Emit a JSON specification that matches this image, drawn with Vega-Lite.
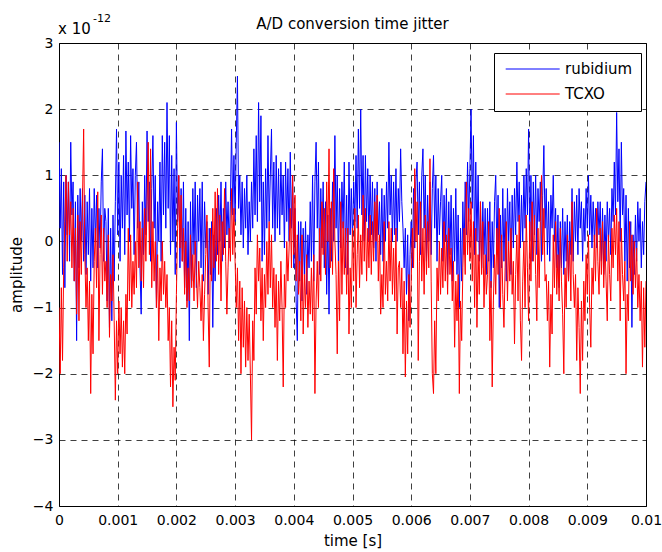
{
"$schema":"https://vega.github.io/schema/vega-lite/v6.json",
"width":587,"height":463,
"autosize":{"type":"none"},
"padding":{"left":59,"top":43,"right":16,"bottom":46},
"background":"white",
"title":{"text":"A/D conversion time jitter","font":"DejaVu Sans","fontSize":15,"fontWeight":"normal","color":"black","anchor":"middle","baseline":"alphabetic","offset":-17,"dy":14},
"config":{
"font":"DejaVu Sans",
"view":{"stroke":"black","strokeWidth":1},
"axis":{"labelFont":"DejaVu Sans","labelFontSize":14,"labelColor":"black","titleFont":"DejaVu Sans","titleFontSize":15,"titleFontWeight":"normal","titleColor":"black","domain":false,"ticks":false,"grid":true,"gridColor":"black","gridDash":[6,5],"gridWidth":1,"gridOpacity":0.75}
},
"data":{"values":[
{"t":0,"rb":1.5,"tcxo":-1.0},{"t":0.00002,"rb":0.2,"tcxo":-2.0},{"t":0.00004,"rb":1.1,"tcxo":-0.7},{"t":0.00006,"rb":-0.5,"tcxo":-1.8},{"t":0.00008,"rb":0.9,"tcxo":-0.4},
{"t":0.0001,"rb":-0.7,"tcxo":0.3},{"t":0.00012,"rb":1.0,"tcxo":1.0},{"t":0.00014,"rb":0.1,"tcxo":-0.3},{"t":0.00016,"rb":0.9,"tcxo":0.9},{"t":0.00018,"rb":-0.3,"tcxo":0.1},
{"t":0.0002,"rb":1.5,"tcxo":0.6},{"t":0.00022,"rb":0.4,"tcxo":-0.4},{"t":0.00024,"rb":0.9,"tcxo":0.5},{"t":0.00026,"rb":-0.6,"tcxo":-0.6},{"t":0.00028,"rb":0.6,"tcxo":0.2},
{"t":0.0003,"rb":-1.5,"tcxo":-1.1},{"t":0.00032,"rb":0.7,"tcxo":0.4},{"t":0.00034,"rb":-0.4,"tcxo":-1.2},{"t":0.00036,"rb":0.8,"tcxo":0.3},{"t":0.00038,"rb":0.0,"tcxo":-0.5},
{"t":0.0004,"rb":0.8,"tcxo":0.6},{"t":0.00042,"rb":-0.3,"tcxo":1.7},{"t":0.00044,"rb":0.7,"tcxo":-0.2},{"t":0.00046,"rb":-0.5,"tcxo":-1.0},{"t":0.00048,"rb":0.6,"tcxo":-0.4},
{"t":0.0005,"rb":-0.2,"tcxo":-1.5},{"t":0.00052,"rb":0.8,"tcxo":-0.6},{"t":0.00054,"rb":-0.6,"tcxo":-2.3},{"t":0.00056,"rb":0.5,"tcxo":-0.8},{"t":0.00058,"rb":-0.4,"tcxo":-1.7},
{"t":0.0006,"rb":0.8,"tcxo":-0.3},{"t":0.00062,"rb":0.0,"tcxo":0.2},{"t":0.00064,"rb":0.7,"tcxo":-0.7},{"t":0.00066,"rb":-0.4,"tcxo":0.75},{"t":0.00068,"rb":0.5,"tcxo":-1.5},
{"t":0.0007,"rb":-0.1,"tcxo":-0.2},{"t":0.00072,"rb":0.9,"tcxo":0.4},{"t":0.00074,"rb":1.4,"tcxo":-0.8},{"t":0.00076,"rb":-0.3,"tcxo":0.2},{"t":0.00078,"rb":0.5,"tcxo":-0.6},
{"t":0.0008,"rb":0.3,"tcxo":-0.3},{"t":0.00082,"rb":-0.9,"tcxo":-1.0},{"t":0.00084,"rb":0.5,"tcxo":0.1},{"t":0.00086,"rb":-1.3,"tcxo":-1.45},{"t":0.00088,"rb":0.2,"tcxo":-0.5},
{"t":0.0009,"rb":-1.2,"tcxo":-0.9},{"t":0.00092,"rb":0.4,"tcxo":-0.2},{"t":0.00094,"rb":-0.6,"tcxo":-1.2},{"t":0.00096,"rb":0.6,"tcxo":-2.4},{"t":0.00098,"rb":1.7,"tcxo":-1.2},
{"t":0.001,"rb":0.1,"tcxo":-2.0},{"t":0.00102,"rb":1.2,"tcxo":-0.9},{"t":0.00104,"rb":-0.3,"tcxo":-1.7},{"t":0.00106,"rb":1.0,"tcxo":-1.0},{"t":0.00108,"rb":0.2,"tcxo":-1.9},
{"t":0.0011,"rb":1.3,"tcxo":-1.2},{"t":0.00112,"rb":-0.2,"tcxo":-2.0},{"t":0.00114,"rb":1.67,"tcxo":-0.8},{"t":0.00116,"rb":0.4,"tcxo":-1.4},{"t":0.00118,"rb":1.2,"tcxo":0.2},
{"t":0.0012,"rb":0.0,"tcxo":-0.9},{"t":0.00122,"rb":1.6,"tcxo":0.1},{"t":0.00124,"rb":0.5,"tcxo":-1.0},{"t":0.00126,"rb":1.1,"tcxo":-0.3},{"t":0.00128,"rb":-0.2,"tcxo":-0.8},
{"t":0.0013,"rb":1.0,"tcxo":0.0},{"t":0.00132,"rb":1.5,"tcxo":-0.7},{"t":0.00134,"rb":0.2,"tcxo":0.9},{"t":0.00136,"rb":0.9,"tcxo":-0.4},{"t":0.00138,"rb":-0.4,"tcxo":0.3},
{"t":0.0014,"rb":-1.1,"tcxo":-0.6},{"t":0.00142,"rb":0.6,"tcxo":0.2},{"t":0.00144,"rb":-0.2,"tcxo":-0.7},{"t":0.00146,"rb":1.0,"tcxo":0.5},{"t":0.00148,"rb":0.1,"tcxo":-0.3},
{"t":0.0015,"rb":1.67,"tcxo":0.6},{"t":0.00152,"rb":0.3,"tcxo":1.5},{"t":0.00154,"rb":0.9,"tcxo":-0.2},{"t":0.00156,"rb":-0.3,"tcxo":1.4},{"t":0.00158,"rb":0.8,"tcxo":-0.7},
{"t":0.0016,"rb":1.6,"tcxo":0.3},{"t":0.00162,"rb":0.2,"tcxo":-0.6},{"t":0.00164,"rb":1.0,"tcxo":0.0},{"t":0.00166,"rb":-1.0,"tcxo":-1.0},{"t":0.00168,"rb":0.6,"tcxo":-0.2},
{"t":0.0017,"rb":0.0,"tcxo":-1.5},{"t":0.00172,"rb":1.2,"tcxo":-0.4},{"t":0.00174,"rb":-0.3,"tcxo":-0.9},{"t":0.00176,"rb":1.6,"tcxo":0.0},{"t":0.00178,"rb":0.4,"tcxo":-0.8},
{"t":0.0018,"rb":1.5,"tcxo":-0.3},{"t":0.00182,"rb":0.2,"tcxo":-1.0},{"t":0.00184,"rb":2.1,"tcxo":-0.5},{"t":0.00186,"rb":0.5,"tcxo":-1.5},{"t":0.00188,"rb":1.6,"tcxo":-1.0},
{"t":0.0019,"rb":-0.2,"tcxo":-2.2},{"t":0.00192,"rb":1.3,"tcxo":-1.2},{"t":0.00194,"rb":0.0,"tcxo":-2.5},{"t":0.00196,"rb":1.1,"tcxo":-1.6},{"t":0.00198,"rb":-0.5,"tcxo":-2.1},
{"t":0.002,"rb":1.8,"tcxo":-0.8},{"t":0.00202,"rb":0.3,"tcxo":0.2},{"t":0.00204,"rb":1.0,"tcxo":1.0},{"t":0.00206,"rb":-0.4,"tcxo":-0.1},{"t":0.00208,"rb":0.8,"tcxo":0.7},
{"t":0.0021,"rb":-0.3,"tcxo":-0.3},{"t":0.00212,"rb":0.9,"tcxo":0.2},{"t":0.00214,"rb":-0.7,"tcxo":-0.8},{"t":0.00216,"rb":0.5,"tcxo":0.0},{"t":0.00218,"rb":-0.9,"tcxo":-1.0},
{"t":0.0022,"rb":0.3,"tcxo":-0.4},{"t":0.00222,"rb":-1.5,"tcxo":-0.9},{"t":0.00224,"rb":0.6,"tcxo":0.1},{"t":0.00226,"rb":-0.6,"tcxo":-0.7},{"t":0.00228,"rb":0.8,"tcxo":-0.2},
{"t":0.0023,"rb":-0.2,"tcxo":-0.9},{"t":0.00232,"rb":0.9,"tcxo":0.0},{"t":0.00234,"rb":-0.7,"tcxo":-0.5},{"t":0.00236,"rb":0.7,"tcxo":-1.0},{"t":0.00238,"rb":0.0,"tcxo":-0.3},
{"t":0.0024,"rb":0.8,"tcxo":-0.7},{"t":0.00242,"rb":-0.4,"tcxo":-1.2},{"t":0.00244,"rb":0.9,"tcxo":-0.5},{"t":0.00246,"rb":-0.6,"tcxo":-1.5},{"t":0.00248,"rb":0.6,"tcxo":-0.8},
{"t":0.0025,"rb":-0.1,"tcxo":-0.2},{"t":0.00252,"rb":0.3,"tcxo":0.4},{"t":0.00254,"rb":-0.8,"tcxo":-1.0},{"t":0.00256,"rb":0.2,"tcxo":-1.9},{"t":0.00258,"rb":-0.5,"tcxo":0.2},
{"t":0.0026,"rb":0.3,"tcxo":-0.6},{"t":0.00262,"rb":-1.3,"tcxo":0.5},{"t":0.00264,"rb":0.1,"tcxo":-0.4},{"t":0.00266,"rb":-0.6,"tcxo":0.75},{"t":0.00268,"rb":0.5,"tcxo":-0.3},
{"t":0.0027,"rb":-0.2,"tcxo":0.8},{"t":0.00272,"rb":0.7,"tcxo":-0.5},{"t":0.00274,"rb":0.0,"tcxo":0.4},{"t":0.00276,"rb":0.9,"tcxo":-0.9},{"t":0.00278,"rb":-0.3,"tcxo":0.3},
{"t":0.0028,"rb":0.5,"tcxo":-0.2},{"t":0.00282,"rb":-0.1,"tcxo":0.8},{"t":0.00284,"rb":0.9,"tcxo":-0.3},{"t":0.00286,"rb":0.1,"tcxo":-1.1},{"t":0.00288,"rb":0.6,"tcxo":-0.4},
{"t":0.0029,"rb":-0.1,"tcxo":0.2},{"t":0.00292,"rb":0.6,"tcxo":-0.3},{"t":0.00294,"rb":1.7,"tcxo":0.8},{"t":0.00296,"rb":0.4,"tcxo":-0.2},{"t":0.00298,"rb":1.3,"tcxo":0.5},
{"t":0.003,"rb":0.3,"tcxo":-0.3},{"t":0.00302,"rb":1.5,"tcxo":-1.0},{"t":0.00304,"rb":2.5,"tcxo":-0.4},{"t":0.00306,"rb":0.5,"tcxo":-1.5},{"t":0.00308,"rb":1.0,"tcxo":-0.6},
{"t":0.0031,"rb":0.1,"tcxo":-2.0},{"t":0.00312,"rb":0.9,"tcxo":-0.7},{"t":0.00314,"rb":-0.1,"tcxo":-1.6},{"t":0.00316,"rb":0.8,"tcxo":-0.9},{"t":0.00318,"rb":0.2,"tcxo":-1.9},
{"t":0.0032,"rb":1.0,"tcxo":-1.0},{"t":0.00322,"rb":-0.2,"tcxo":-1.8},{"t":0.00324,"rb":0.6,"tcxo":-1.1},{"t":0.00326,"rb":0.0,"tcxo":-2.0},{"t":0.00328,"rb":0.9,"tcxo":-3.0},
{"t":0.0033,"rb":0.2,"tcxo":-1.2},{"t":0.00332,"rb":1.4,"tcxo":-1.8},{"t":0.00334,"rb":0.4,"tcxo":-0.4},{"t":0.00336,"rb":1.6,"tcxo":-1.1},{"t":0.00338,"rb":0.3,"tcxo":0.1},
{"t":0.0034,"rb":2.1,"tcxo":-0.6},{"t":0.00342,"rb":0.6,"tcxo":-0.1},{"t":0.00344,"rb":1.9,"tcxo":-1.2},{"t":0.00346,"rb":-0.3,"tcxo":-0.4},{"t":0.00348,"rb":0.9,"tcxo":-1.5},
{"t":0.0035,"rb":-0.2,"tcxo":-0.5},{"t":0.00352,"rb":1.1,"tcxo":-1.0},{"t":0.00354,"rb":0.2,"tcxo":0.0},{"t":0.00356,"rb":1.6,"tcxo":-0.8},{"t":0.00358,"rb":0.3,"tcxo":0.3},
{"t":0.0036,"rb":1.0,"tcxo":-0.7},{"t":0.00362,"rb":1.7,"tcxo":0.1},{"t":0.00364,"rb":0.2,"tcxo":-1.0},{"t":0.00366,"rb":1.2,"tcxo":-0.4},{"t":0.00368,"rb":0.0,"tcxo":-1.3},
{"t":0.0037,"rb":1.3,"tcxo":-0.5},{"t":0.00372,"rb":0.2,"tcxo":-1.8},{"t":0.00374,"rb":1.1,"tcxo":-0.6},{"t":0.00376,"rb":0.1,"tcxo":-1.2},{"t":0.00378,"rb":1.2,"tcxo":-0.3},
{"t":0.0038,"rb":0.4,"tcxo":-1.0},{"t":0.00382,"rb":1.0,"tcxo":-2.2},{"t":0.00384,"rb":-0.1,"tcxo":-0.5},{"t":0.00386,"rb":1.2,"tcxo":-1.0},{"t":0.00388,"rb":0.3,"tcxo":0.0},
{"t":0.0039,"rb":1.1,"tcxo":-0.6},{"t":0.00392,"rb":0.0,"tcxo":-0.1},{"t":0.00394,"rb":1.35,"tcxo":0.5},{"t":0.00396,"rb":0.2,"tcxo":-0.4},{"t":0.00398,"rb":1.0,"tcxo":1.0},
{"t":0.004,"rb":-0.4,"tcxo":-0.2},{"t":0.00402,"rb":0.5,"tcxo":0.7},{"t":0.00404,"rb":-0.9,"tcxo":-0.6},{"t":0.00406,"rb":-1.5,"tcxo":0.1},{"t":0.00408,"rb":0.3,"tcxo":-0.8},
{"t":0.0041,"rb":-0.6,"tcxo":-0.3},{"t":0.00412,"rb":0.3,"tcxo":-1.2},{"t":0.00414,"rb":-0.9,"tcxo":0.1},{"t":0.00416,"rb":0.2,"tcxo":-1.4},{"t":0.00418,"rb":-0.5,"tcxo":-0.5},
{"t":0.0042,"rb":0.3,"tcxo":-1.0},{"t":0.00422,"rb":-0.8,"tcxo":-0.2},{"t":0.00424,"rb":0.1,"tcxo":-1.3},{"t":0.00426,"rb":-0.4,"tcxo":-0.6},{"t":0.00428,"rb":0.6,"tcxo":-1.1},
{"t":0.0043,"rb":-0.3,"tcxo":-0.4},{"t":0.00432,"rb":1.0,"tcxo":-1.2},{"t":0.00434,"rb":-0.6,"tcxo":-0.2},{"t":0.00436,"rb":0.9,"tcxo":-2.3},{"t":0.00438,"rb":1.5,"tcxo":-0.9},
{"t":0.0044,"rb":0.2,"tcxo":-0.3},{"t":0.00442,"rb":1.2,"tcxo":-1.0},{"t":0.00444,"rb":-0.5,"tcxo":0.2},{"t":0.00446,"rb":0.8,"tcxo":-0.6},{"t":0.00448,"rb":-0.1,"tcxo":0.6},
{"t":0.0045,"rb":0.9,"tcxo":-0.2},{"t":0.00452,"rb":-0.4,"tcxo":0.5},{"t":0.00454,"rb":0.6,"tcxo":-0.5},{"t":0.00456,"rb":-0.8,"tcxo":0.9},{"t":0.00458,"rb":0.4,"tcxo":0.0},
{"t":0.0046,"rb":-1.1,"tcxo":1.4},{"t":0.00462,"rb":0.5,"tcxo":-0.4},{"t":0.00464,"rb":-0.3,"tcxo":0.6},{"t":0.00466,"rb":0.9,"tcxo":-0.5},{"t":0.00468,"rb":0.0,"tcxo":1.1},
{"t":0.0047,"rb":1.6,"tcxo":0.0},{"t":0.00472,"rb":0.2,"tcxo":-0.5},{"t":0.00474,"rb":1.0,"tcxo":-1.7},{"t":0.00476,"rb":-0.3,"tcxo":-0.3},{"t":0.00478,"rb":0.8,"tcxo":-1.2},
{"t":0.0048,"rb":-0.1,"tcxo":0.6},{"t":0.00482,"rb":0.9,"tcxo":-0.8},{"t":0.00484,"rb":0.2,"tcxo":0.3},{"t":0.00486,"rb":1.2,"tcxo":-0.5},{"t":0.00488,"rb":-0.4,"tcxo":0.2},
{"t":0.0049,"rb":0.7,"tcxo":-0.8},{"t":0.00492,"rb":-0.5,"tcxo":0.2},{"t":0.00494,"rb":1.2,"tcxo":-1.4},{"t":0.00496,"rb":0.1,"tcxo":-0.4},{"t":0.00498,"rb":0.8,"tcxo":-1.0},
{"t":0.005,"rb":0.0,"tcxo":0.2},{"t":0.00502,"rb":0.9,"tcxo":-0.6},{"t":0.00504,"rb":0.3,"tcxo":0.5},{"t":0.00506,"rb":1.3,"tcxo":-1.0},{"t":0.00508,"rb":0.2,"tcxo":-0.2},
{"t":0.0051,"rb":1.7,"tcxo":0.4},{"t":0.00512,"rb":0.5,"tcxo":-0.7},{"t":0.00514,"rb":2.0,"tcxo":0.1},{"t":0.00516,"rb":0.4,"tcxo":-0.5},{"t":0.00518,"rb":1.3,"tcxo":0.7},
{"t":0.0052,"rb":0.0,"tcxo":-0.3},{"t":0.00522,"rb":1.3,"tcxo":0.5},{"t":0.00524,"rb":0.3,"tcxo":-0.6},{"t":0.00526,"rb":1.1,"tcxo":0.2},{"t":0.00528,"rb":0.0,"tcxo":-0.4},
{"t":0.0053,"rb":1.0,"tcxo":0.4},{"t":0.00532,"rb":0.1,"tcxo":-0.5},{"t":0.00534,"rb":0.9,"tcxo":0.3},{"t":0.00536,"rb":-0.1,"tcxo":-0.3},{"t":0.00538,"rb":0.8,"tcxo":0.6},
{"t":0.0054,"rb":-0.3,"tcxo":0.0},{"t":0.00542,"rb":0.9,"tcxo":0.7},{"t":0.00544,"rb":0.1,"tcxo":-0.6},{"t":0.00546,"rb":0.6,"tcxo":0.1},{"t":0.00548,"rb":-0.2,"tcxo":-1.1},
{"t":0.0055,"rb":0.8,"tcxo":-0.5},{"t":0.00552,"rb":-0.3,"tcxo":-1.0},{"t":0.00554,"rb":0.7,"tcxo":0.3},{"t":0.00556,"rb":0.0,"tcxo":-0.8},{"t":0.00558,"rb":0.9,"tcxo":-0.3},
{"t":0.0056,"rb":0.2,"tcxo":-0.9},{"t":0.00562,"rb":1.5,"tcxo":0.3},{"t":0.00564,"rb":0.4,"tcxo":-0.6},{"t":0.00566,"rb":1.0,"tcxo":0.2},{"t":0.00568,"rb":0.0,"tcxo":-0.8},
{"t":0.0057,"rb":0.9,"tcxo":-0.1},{"t":0.00572,"rb":0.1,"tcxo":-0.9},{"t":0.00574,"rb":1.1,"tcxo":0.2},{"t":0.00576,"rb":0.0,"tcxo":-1.4},{"t":0.00578,"rb":0.8,"tcxo":-0.4},
{"t":0.0058,"rb":0.3,"tcxo":-0.3},{"t":0.00582,"rb":1.4,"tcxo":-1.0},{"t":0.00584,"rb":0.6,"tcxo":-0.4},{"t":0.00586,"rb":0.2,"tcxo":-1.7},{"t":0.00588,"rb":-0.4,"tcxo":-0.6},
{"t":0.0059,"rb":0.2,"tcxo":-2.05},{"t":0.00592,"rb":-0.8,"tcxo":-0.9},{"t":0.00594,"rb":0.1,"tcxo":-1.7},{"t":0.00596,"rb":-1.2,"tcxo":-0.5},{"t":0.00598,"rb":-0.2,"tcxo":-1.3},
{"t":0.006,"rb":0.3,"tcxo":-0.6},{"t":0.00602,"rb":-0.4,"tcxo":0.2},{"t":0.00604,"rb":0.8,"tcxo":-0.4},{"t":0.00606,"rb":-0.1,"tcxo":1.1},{"t":0.00608,"rb":0.9,"tcxo":0.0},
{"t":0.0061,"rb":1.2,"tcxo":0.6},{"t":0.00612,"rb":0.1,"tcxo":-1.8},{"t":0.00614,"rb":0.9,"tcxo":-0.3},{"t":0.00616,"rb":-0.2,"tcxo":0.6},{"t":0.00618,"rb":1.0,"tcxo":-0.6},
{"t":0.0062,"rb":1.4,"tcxo":0.2},{"t":0.00622,"rb":0.2,"tcxo":-0.8},{"t":0.00624,"rb":1.0,"tcxo":0.4},{"t":0.00626,"rb":-0.3,"tcxo":-0.5},{"t":0.00628,"rb":0.7,"tcxo":0.3},
{"t":0.0063,"rb":0.0,"tcxo":-0.4},{"t":0.00632,"rb":0.9,"tcxo":1.25},{"t":0.00634,"rb":-0.2,"tcxo":-0.6},{"t":0.00636,"rb":0.8,"tcxo":-2.0},{"t":0.00638,"rb":1.3,"tcxo":-2.3},
{"t":0.0064,"rb":0.2,"tcxo":-1.2},{"t":0.00642,"rb":1.0,"tcxo":-2.0},{"t":0.00644,"rb":-0.3,"tcxo":-0.4},{"t":0.00646,"rb":0.8,"tcxo":-0.9},{"t":0.00648,"rb":0.1,"tcxo":0.0},
{"t":0.0065,"rb":0.6,"tcxo":-0.8},{"t":0.00652,"rb":1.0,"tcxo":-0.1},{"t":0.00654,"rb":-0.3,"tcxo":-0.7},{"t":0.00656,"rb":0.7,"tcxo":0.3},{"t":0.00658,"rb":0.0,"tcxo":-0.6},
{"t":0.0066,"rb":0.8,"tcxo":0.1},{"t":0.00662,"rb":-0.5,"tcxo":-0.8},{"t":0.00664,"rb":0.6,"tcxo":0.2},{"t":0.00666,"rb":-0.2,"tcxo":-0.5},{"t":0.00668,"rb":0.7,"tcxo":-0.1},
{"t":0.0067,"rb":-0.6,"tcxo":-0.9},{"t":0.00672,"rb":0.5,"tcxo":-0.3},{"t":0.00674,"rb":-0.3,"tcxo":-1.6},{"t":0.00676,"rb":0.8,"tcxo":-0.6},{"t":0.00678,"rb":-0.5,"tcxo":-1.2},
{"t":0.0068,"rb":0.4,"tcxo":-0.5},{"t":0.00682,"rb":-1.0,"tcxo":-2.3},{"t":0.00684,"rb":0.2,"tcxo":-0.9},{"t":0.00686,"rb":-0.6,"tcxo":-1.5},{"t":0.00688,"rb":0.6,"tcxo":-0.4},
{"t":0.0069,"rb":-0.2,"tcxo":0.2},{"t":0.00692,"rb":0.9,"tcxo":-0.5},{"t":0.00694,"rb":0.1,"tcxo":0.9},{"t":0.00696,"rb":1.2,"tcxo":-0.2},{"t":0.00698,"rb":0.3,"tcxo":0.5},
{"t":0.007,"rb":1.1,"tcxo":-0.3},{"t":0.00702,"rb":2.0,"tcxo":0.6},{"t":0.00704,"rb":0.5,"tcxo":-0.6},{"t":0.00706,"rb":1.6,"tcxo":0.3},{"t":0.00708,"rb":-0.2,"tcxo":-1.0},
{"t":0.0071,"rb":1.2,"tcxo":0.2},{"t":0.00712,"rb":0.0,"tcxo":-1.3},{"t":0.00714,"rb":1.0,"tcxo":-0.2},{"t":0.00716,"rb":-0.3,"tcxo":-0.8},{"t":0.00718,"rb":0.6,"tcxo":0.6},
{"t":0.0072,"rb":-0.4,"tcxo":-0.5},{"t":0.00722,"rb":0.6,"tcxo":0.3},{"t":0.00724,"rb":-0.2,"tcxo":-1.0},{"t":0.00726,"rb":0.5,"tcxo":-0.2},{"t":0.00728,"rb":-0.5,"tcxo":-0.8},
{"t":0.0073,"rb":0.5,"tcxo":-0.5},{"t":0.00732,"rb":-0.3,"tcxo":0.3},{"t":0.00734,"rb":0.6,"tcxo":-1.5},{"t":0.00736,"rb":-0.7,"tcxo":-0.6},{"t":0.00738,"rb":0.3,"tcxo":-2.2},
{"t":0.0074,"rb":-0.4,"tcxo":-0.9},{"t":0.00742,"rb":0.6,"tcxo":-0.2},{"t":0.00744,"rb":1.0,"tcxo":-0.8},{"t":0.00746,"rb":-0.2,"tcxo":0.2},{"t":0.00748,"rb":0.7,"tcxo":-0.5},
{"t":0.0075,"rb":-1.0,"tcxo":0.5},{"t":0.00752,"rb":0.4,"tcxo":-1.0},{"t":0.00754,"rb":-0.4,"tcxo":0.1},{"t":0.00756,"rb":0.8,"tcxo":-0.8},{"t":0.00758,"rb":-0.3,"tcxo":-1.3},
{"t":0.0076,"rb":0.5,"tcxo":-0.4},{"t":0.00762,"rb":-0.6,"tcxo":0.3},{"t":0.00764,"rb":0.8,"tcxo":-0.9},{"t":0.00766,"rb":0.0,"tcxo":0.0},{"t":0.00768,"rb":0.6,"tcxo":-0.6},
{"t":0.0077,"rb":-0.5,"tcxo":0.2},{"t":0.00772,"rb":0.7,"tcxo":-0.8},{"t":0.00774,"rb":-0.1,"tcxo":-0.3},{"t":0.00776,"rb":0.8,"tcxo":-1.55},{"t":0.00778,"rb":0.1,"tcxo":-0.5},
{"t":0.0078,"rb":1.2,"tcxo":0.1},{"t":0.00782,"rb":0.3,"tcxo":-0.9},{"t":0.00784,"rb":0.9,"tcxo":0.4},{"t":0.00786,"rb":-0.1,"tcxo":-1.2},{"t":0.00788,"rb":0.7,"tcxo":-1.8},
{"t":0.0079,"rb":0.0,"tcxo":-0.6},{"t":0.00792,"rb":1.0,"tcxo":0.0},{"t":0.00794,"rb":0.2,"tcxo":-1.0},{"t":0.00796,"rb":1.1,"tcxo":0.4},{"t":0.00798,"rb":0.4,"tcxo":-0.4},
{"t":0.008,"rb":1.7,"tcxo":-1.2},{"t":0.00802,"rb":0.0,"tcxo":0.3},{"t":0.00804,"rb":1.0,"tcxo":-0.6},{"t":0.00806,"rb":-0.3,"tcxo":0.6},{"t":0.00808,"rb":0.9,"tcxo":-0.3},
{"t":0.0081,"rb":0.1,"tcxo":0.4},{"t":0.00812,"rb":1.0,"tcxo":-0.5},{"t":0.00814,"rb":-0.2,"tcxo":-1.2},{"t":0.00816,"rb":0.8,"tcxo":0.2},{"t":0.00818,"rb":0.3,"tcxo":-0.7},
{"t":0.0082,"rb":0.9,"tcxo":0.3},{"t":0.00822,"rb":-0.3,"tcxo":1.0},{"t":0.00824,"rb":0.7,"tcxo":-0.2},{"t":0.00826,"rb":1.45,"tcxo":0.5},{"t":0.00828,"rb":0.2,"tcxo":-0.6},
{"t":0.0083,"rb":0.8,"tcxo":-0.5},{"t":0.00832,"rb":-0.2,"tcxo":-1.2},{"t":0.00834,"rb":0.6,"tcxo":-0.6},{"t":0.00836,"rb":-0.3,"tcxo":-1.9},{"t":0.00838,"rb":0.7,"tcxo":-0.8},
{"t":0.0084,"rb":0.2,"tcxo":-1.4},{"t":0.00842,"rb":1.0,"tcxo":0.1},{"t":0.00844,"rb":0.0,"tcxo":-0.7},{"t":0.00846,"rb":0.5,"tcxo":0.3},{"t":0.00848,"rb":-0.4,"tcxo":-0.8},
{"t":0.0085,"rb":0.4,"tcxo":-0.2},{"t":0.00852,"rb":-0.7,"tcxo":-0.9},{"t":0.00854,"rb":0.3,"tcxo":0.2},{"t":0.00856,"rb":-0.4,"tcxo":-0.6},{"t":0.00858,"rb":0.5,"tcxo":-1.1},
{"t":0.0086,"rb":-0.5,"tcxo":-2.0},{"t":0.00862,"rb":0.3,"tcxo":-0.4},{"t":0.00864,"rb":-0.3,"tcxo":-1.0},{"t":0.00866,"rb":0.4,"tcxo":0.1},{"t":0.00868,"rb":-0.6,"tcxo":-0.6},
{"t":0.0087,"rb":0.3,"tcxo":0.0},{"t":0.00872,"rb":-0.2,"tcxo":-0.9},{"t":0.00874,"rb":0.8,"tcxo":0.6},{"t":0.00876,"rb":-0.3,"tcxo":-0.5},{"t":0.00878,"rb":0.6,"tcxo":-1.0},
{"t":0.0088,"rb":0.0,"tcxo":-0.5},{"t":0.00882,"rb":0.7,"tcxo":-1.8},{"t":0.00884,"rb":-0.2,"tcxo":-0.7},{"t":0.00886,"rb":0.8,"tcxo":-1.3},{"t":0.00888,"rb":0.2,"tcxo":-2.3},
{"t":0.0089,"rb":0.6,"tcxo":-0.9},{"t":0.00892,"rb":-0.3,"tcxo":-1.8},{"t":0.00894,"rb":0.5,"tcxo":-0.6},{"t":0.00896,"rb":0.0,"tcxo":-1.2},{"t":0.00898,"rb":0.8,"tcxo":-0.2},
{"t":0.009,"rb":0.2,"tcxo":-0.8},{"t":0.00902,"rb":1.0,"tcxo":0.1},{"t":0.00904,"rb":0.1,"tcxo":-1.0},{"t":0.00906,"rb":0.7,"tcxo":-1.6},{"t":0.00908,"rb":-0.1,"tcxo":-0.4},
{"t":0.0091,"rb":0.6,"tcxo":-0.8},{"t":0.00912,"rb":0.0,"tcxo":0.1},{"t":0.00914,"rb":0.5,"tcxo":-0.6},{"t":0.00916,"rb":-0.1,"tcxo":0.5},{"t":0.00918,"rb":0.6,"tcxo":-0.3},
{"t":0.0092,"rb":0.1,"tcxo":-0.8},{"t":0.00922,"rb":0.6,"tcxo":0.2},{"t":0.00924,"rb":-0.3,"tcxo":-0.5},{"t":0.00926,"rb":0.5,"tcxo":0.3},{"t":0.00928,"rb":-0.5,"tcxo":-0.7},
{"t":0.0093,"rb":0.4,"tcxo":0.0},{"t":0.00932,"rb":-0.3,"tcxo":-0.6},{"t":0.00934,"rb":0.6,"tcxo":-1.2},{"t":0.00936,"rb":0.0,"tcxo":0.1},{"t":0.00938,"rb":0.5,"tcxo":-0.5},
{"t":0.0094,"rb":-0.2,"tcxo":-0.9},{"t":0.00942,"rb":0.8,"tcxo":0.2},{"t":0.00944,"rb":0.3,"tcxo":-0.4},{"t":0.00946,"rb":1.2,"tcxo":0.4},{"t":0.00948,"rb":0.4,"tcxo":-0.2},
{"t":0.0095,"rb":1.95,"tcxo":0.5},{"t":0.00952,"rb":0.6,"tcxo":-0.6},{"t":0.00954,"rb":1.4,"tcxo":0.3},{"t":0.00956,"rb":0.0,"tcxo":-1.2},{"t":0.00958,"rb":1.5,"tcxo":0.2},
{"t":0.0096,"rb":0.4,"tcxo":-0.5},{"t":0.00962,"rb":0.8,"tcxo":-0.9},{"t":0.00964,"rb":-0.3,"tcxo":-0.3},{"t":0.00966,"rb":0.7,"tcxo":-2.0},{"t":0.00968,"rb":-0.6,"tcxo":-0.8},
{"t":0.0097,"rb":0.5,"tcxo":-1.2},{"t":0.00972,"rb":-0.4,"tcxo":0.3},{"t":0.00974,"rb":0.3,"tcxo":-0.6},{"t":0.00976,"rb":-1.3,"tcxo":0.1},{"t":0.00978,"rb":0.1,"tcxo":-0.8},
{"t":0.0098,"rb":-0.5,"tcxo":0.0},{"t":0.00982,"rb":0.4,"tcxo":-0.7},{"t":0.00984,"rb":-0.3,"tcxo":-0.1},{"t":0.00986,"rb":0.6,"tcxo":-1.0},{"t":0.00988,"rb":0.0,"tcxo":-0.5},
{"t":0.0099,"rb":0.5,"tcxo":-1.2},{"t":0.00992,"rb":-0.4,"tcxo":-0.6},{"t":0.00994,"rb":0.3,"tcxo":-1.9},{"t":0.00996,"rb":-0.2,"tcxo":-0.7},{"t":0.00998,"rb":0.6,"tcxo":-1.6},
{"t":0.01,"rb":0.9,"tcxo":-0.6}
]},
"layer":[
{"mark":{"type":"line","strokeWidth":1,"clip":true},
 "encoding":{
  "x":{"field":"t","type":"quantitative","scale":{"domain":[0,0.01],"nice":false,"zero":false},"axis":{"title":"time [s]","values":[0,0.001,0.002,0.003,0.004,0.005,0.006,0.007,0.008,0.009,0.01],"format":".3~f","labelPadding":7,"titlePadding":6,"labelFlush":false}},
  "y":{"field":"rb","type":"quantitative","scale":{"domain":[-4,3],"nice":false,"zero":false},"axis":{"title":"amplitude","values":[-4,-3,-2,-1,0,1,2,3],"format":"d","labelPadding":6,"titlePadding":8}},
  "color":{"datum":"rubidium","type":"nominal","scale":{"domain":["rubidium","TCXO"],"range":["#0000ff","#ff0000"]},
   "legend":{"title":null,"orient":"none","legendX":435,"legendY":10,"direction":"vertical","strokeColor":"black","fillColor":"white","padding":8.5,"symbolType":"M-4,0H4","symbolSize":182.25,"symbolStrokeWidth":1,"symbolOffset":22.7,"labelFont":"DejaVu Sans","labelFontSize":15,"labelColor":"black","labelOffset":24.8,"rowPadding":9}}
 }},
{"mark":{"type":"line","strokeWidth":1,"clip":true},
 "encoding":{
  "x":{"field":"t","type":"quantitative"},
  "y":{"field":"tcxo","type":"quantitative","axis":{"title":"amplitude"}},
  "color":{"datum":"TCXO","type":"nominal"}
 }},
{"data":{"values":[{"t":0,"v":3}]},
 "mark":{"type":"text","text":"x 10","align":"left","baseline":"alphabetic","dx":-1,"dy":-9,"fontSize":15,"font":"DejaVu Sans","color":"black"},
 "encoding":{"x":{"field":"t","type":"quantitative"},"y":{"field":"v","type":"quantitative","axis":{"title":"amplitude"}}}},
{"data":{"values":[{"t":0,"v":3}]},
 "mark":{"type":"text","text":"-12","align":"left","baseline":"alphabetic","dx":34,"dy":-21,"fontSize":11,"font":"DejaVu Sans","color":"black"},
 "encoding":{"x":{"field":"t","type":"quantitative"},"y":{"field":"v","type":"quantitative","axis":{"title":"amplitude"}}}}
]
}
